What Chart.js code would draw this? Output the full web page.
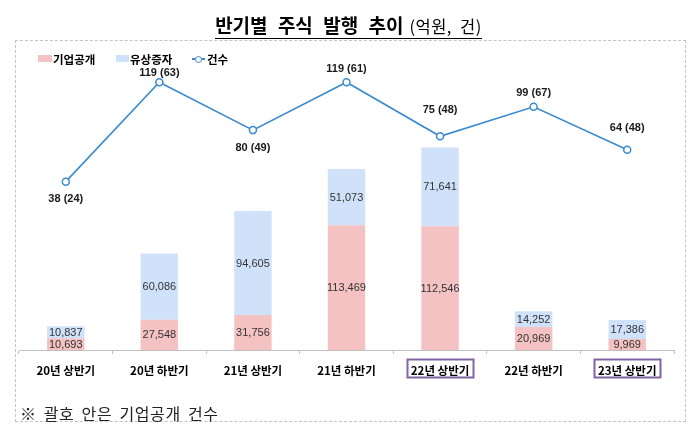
<!DOCTYPE html>
<html><head><meta charset="utf-8">
<script src="https://cdn.jsdelivr.net/npm/chart.js@4.4.1/dist/chart.umd.min.js"></script>
<style>
html,body{margin:0;padding:0;background:#fff;}
#wrap{position:relative;width:700px;height:437px;overflow:hidden;font-family:'Noto Sans CJK KR','Noto Sans',sans-serif;}
#frame{position:absolute;left:15px;top:40px;width:671px;height:382px;border:1px dashed #c4c4c4;box-sizing:border-box;}
#title{position:absolute;left:0;top:14px;width:697px;text-align:center;}
#title span.u{display:inline-block;line-height:21px;padding-bottom:1px;border-bottom:1px solid #000;color:#000;}
#title b{font-size:19px;font-weight:700;word-spacing:6px;}
#title i{font-style:normal;font-size:16.5px;font-weight:400;margin-left:6px;word-spacing:4px;letter-spacing:0.5px;}
.lg{position:absolute;font-size:11.5px;font-weight:700;line-height:14px;top:52px;color:#000;}
.box{position:absolute;height:7px;top:55px;}
#note{position:absolute;left:20px;top:404px;font-size:16px;line-height:18px;color:#222;letter-spacing:0.6px;word-spacing:3px;}
canvas{position:absolute;left:0;top:0;}
</style></head>
<body>
<div id="wrap">
<div id="frame"></div>
<canvas id="c" width="700" height="437"></canvas>
<div id="title"><span class="u"><b>반기별 주식 발행 추이</b><i>(억원, 건)</i></span></div>
<div class="box" style="left:38px;width:14px;background:#F4C2C2"></div>
<div class="lg" style="left:53px">기업공개</div>
<div class="box" style="left:116px;width:13px;background:#CFE2FA"></div>
<div class="lg" style="left:130px">유상증자</div>
<div style="position:absolute;left:192px;top:58px;width:13px;height:1.5px;background:#3A8AD0"></div>
<div style="position:absolute;left:195px;top:55.5px;width:5px;height:5px;border:1.3px solid #3A8AD0;border-radius:50%;background:#fff"></div>
<div class="lg" style="left:207px">건수</div>
<div id="note">※ 괄호 안은 기업공개 건수</div>
</div>
<script>
// ---- data ----
const categories = ['20년 상반기','20년 하반기','21년 상반기','21년 하반기','22년 상반기','22년 하반기','23년 상반기'];
const ipoAmount = [10693, 27548, 31756, 113469, 112546, 20969, 9969];      // 기업공개 (억원)
const rightsAmount = [10837, 60086, 94605, 51073, 71641, 14252, 17386];   // 유상증자 (억원)
const totalCount = [38, 119, 80, 119, 75, 99, 64];                        // 건수
const ipoCount = [24, 63, 49, 61, 48, 67, 48];                            // 기업공개 건수
const highlighted = ['22년 상반기', '23년 상반기'];

// ---- style ----
const countLabelDy = [17, -9, 18, -13, -26, -14, -22];

const fmt = v => v.toLocaleString('en-US');

const labelPlugin = {
  id: 'labels',
  afterDatasetsDraw(chart) {
    const ctx = chart.ctx;
    ctx.save();
    ctx.textAlign = 'center';
    ctx.textBaseline = 'middle';
    ctx.font = "11px 'Liberation Sans', Arial, sans-serif";
    ctx.fillStyle = '#333333';
    [0, 1].forEach(di => {
      const meta = chart.getDatasetMeta(di);
      meta.data.forEach((el, i) => {
        const v = chart.data.datasets[di].data[i];
        ctx.fillText(fmt(v), el.x, (el.y + el.base) / 2 + 0.5);
      });
    });
    ctx.font = "bold 11px 'Liberation Sans', Arial, sans-serif";
    ctx.fillStyle = '#1a1a1a';
    const lm = chart.getDatasetMeta(2);
    lm.data.forEach((el, i) => {
      ctx.fillText(totalCount[i] + ' (' + ipoCount[i] + ')', el.x, el.y + countLabelDy[i]);
    });
    ctx.restore();
  },
  afterDraw(chart) {
    const ctx = chart.ctx;
    const xs = chart.scales.x;
    ctx.save();
    ctx.strokeStyle = '#8064A2';
    ctx.lineWidth = 2;
    highlighted.forEach(c => {
      const i = categories.indexOf(c);
      const x = xs.getPixelForValue(i);
      ctx.strokeRect(Math.round(x - 33) + 0.5, chart.chartArea.bottom + 9.5, 66, 18);
    });
    ctx.restore();
  }
};

new Chart(document.getElementById('c'), {
  data: {
    labels: categories,
    datasets: [
      { type: 'bar', label: '기업공개', data: ipoAmount, backgroundColor: '#F4C2C2', yAxisID: 'y', stack: 's', order: 1,
        barPercentage: 0.4, categoryPercentage: 1.0 },
      { type: 'bar', label: '유상증자', data: rightsAmount, backgroundColor: '#CFE2FA', yAxisID: 'y', stack: 's', order: 1,
        barPercentage: 0.4, categoryPercentage: 1.0 },
      { type: 'line', label: '건수', data: totalCount, yAxisID: 'y1', order: 0,
        borderColor: '#3A8AD0', borderWidth: 1.6, tension: 0,
        pointRadius: 3.5, pointBackgroundColor: '#ffffff', pointBorderColor: '#3A8AD0', pointBorderWidth: 1.5 }
    ]
  },
  options: {
    responsive: false,
    animation: false,
    events: [],
    layout: { padding: { left: 19, right: 26, top: 50, bottom: 0 } },
    plugins: { legend: { display: false }, tooltip: { enabled: false } },
    scales: {
      x: {
        stacked: true,
        offset: true,
        grid: { offset: true, drawOnChartArea: false, drawTicks: true, tickLength: 4, color: '#bfbfbf' },
        border: { display: true, color: '#bfbfbf', width: 1 },
        ticks: { color: '#000', padding: 10, font: { family: "'Noto Sans CJK KR', sans-serif", size: 11.5, weight: 'bold' } },
        afterFit(s) { s.height = 87; }
      },
      y: { stacked: true, display: false, min: 0, max: 272727 },
      y1: { display: false, min: -99.2, max: 145.3 }
    }
  },
  plugins: [labelPlugin]
});
</script>
</body></html>
